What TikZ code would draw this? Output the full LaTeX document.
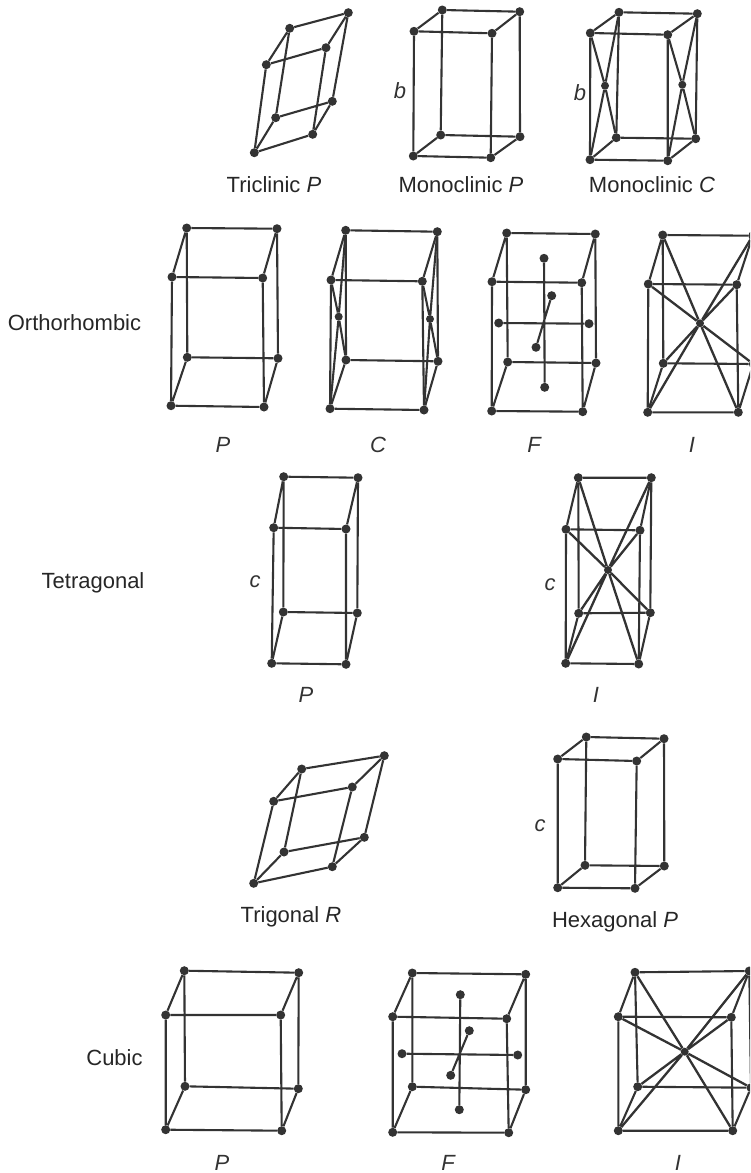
\documentclass[tikz,border=0pt]{standalone}
\usepackage{fontspec}
\setmainfont{Liberation Sans}
\newcommand{\cellbox}[9]{%
  \node[atom] (#1A) at (#2) {};
  \node[atom] (#1B) at (#3) {};
  \node[atom] (#1C) at (#4) {};
  \node[atom] (#1D) at (#5) {};
  \node[atom] (#1E) at (#6) {};
  \node[atom] (#1F) at (#7) {};
  \node[atom] (#1G) at (#8) {};
  \node[atom] (#1H) at (#9) {};
  \draw[edge] (#1A)--(#1B) (#1A)--(#1C) (#1C)--(#1D) (#1B)--(#1D)
    (#1A)--(#1E) (#1B)--(#1F) (#1C)--(#1G) (#1D)--(#1H)
    (#1E)--(#1F) (#1E)--(#1G) (#1F)--(#1H) (#1G)--(#1H);
}
\newcommand{\bodycentre}[2]{%
  \node[minor] (#1O) at (#2) {};
  \draw[edge,line width=2.3pt] (#1A)--(#1O) (#1O)--(#1H) (#1B)--(#1O) (#1O)--(#1G)
    (#1C)--(#1O) (#1O)--(#1F) (#1D)--(#1O) (#1O)--(#1E);
}
\newcommand{\facecentres}[7]{%
  \node[atom] (#1t) at (#2) {};
  \node[atom] (#1b) at (#3) {};
  \node[atom] (#1l) at (#4) {};
  \node[atom] (#1r) at (#5) {};
  \node[atom] (#1k) at (#6) {};
  \node[atom] (#1f) at (#7) {};
  \draw[edge] (#1t)--(#1b) (#1l)--(#1r) (#1k)--(#1f);
}
\newcommand{\sidecentres}[3]{%
  \node[minor] (#1p) at (#2) {};
  \node[minor] (#1q) at (#3) {};
  \draw[edge] (#1A)--(#1p) (#1p)--(#1G) (#1E)--(#1p) (#1p)--(#1C)
    (#1B)--(#1q) (#1q)--(#1H) (#1F)--(#1q) (#1q)--(#1D);
}
\tikzset{
  atom/.style={circle,fill=ink,draw=none,inner sep=0pt,minimum size=9pt},
  minor/.style={circle,fill=ink,draw=none,inner sep=0pt,minimum size=8pt},
  edge/.style={draw=ink,line width=2.1pt},
  lab/.style={text=black!85,font=\fontsize{22}{26}\selectfont,inner sep=0pt},
  sym/.style={text=ink,font=\fontsize{22}{26}\selectfont\itshape,inner sep=0pt}
}
\definecolor{ink}{gray}{0.2}
\begin{document}
\begin{tikzpicture}[x=1pt,y=-1pt]
\useasboundingbox (0,0) rectangle (750,1173);
\clip (0,0) rectangle (750,1173);
% Triclinic
\cellbox{a}{254.3,152.7}{312.7,134.3}{275.7,117.7}{332.3,101.3}{266.3,64.7}{326,47.7}{289.7,28.3}{348.3,12.7}
% Monoclinic P
\cellbox{b}{413.3,156}{490.7,157.7}{440.7,135}{520,136.7}{414,31.3}{492,33.3}{442.3,10}{519.7,11.7}
% Monoclinic C
\cellbox{c}{590,159.7}{667.7,160.7}{616.3,137.7}{695.7,138.7}{590.3,33}{667.7,34.7}{619,12.3}{697.3,13.7}
\sidecentres{c}{605,85.7}{682.3,84.7}
% Orthorhombic
\cellbox{d}{171,405.7}{264,407}{187.3,357.3}{278,358.3}{172,277}{262.7,278}{186.7,228}{277,228.7}
\cellbox{e}{330,408.7}{424,410}{346,360}{438,361.3}{331,280}{422.3,281.3}{345.7,230.3}{437.3,231.7}
\sidecentres{e}{338.7,316.7}{430,319}
\cellbox{f}{491.7,411}{582.7,411.7}{507.7,362}{596,363}{492,281.7}{581.7,282.7}{506.7,233}{595.3,234}
\facecentres{f}{544,258.3}{544.7,387.3}{498.7,323}{589,323.7}{551.7,295.7}{536,347.3}
\cellbox{g}{647.7,412.3}{738.3,412.3}{663.3,363.3}{753.3,364}{648.3,284}{736.7,284.7}{662.7,235}{752.7,235.7}
\bodycentre{g}{700,323.3}
% Tetragonal
\cellbox{h}{271.7,663.3}{346,664.3}{283.3,612}{357.3,613}{273.7,527.7}{346,529}{283.7,476.7}{358,477.7}
\cellbox{i}{565.7,663.3}{638.7,664}{578.7,613.3}{650.3,612.7}{566,529.3}{640,530.3}{578.3,477.7}{651.3,477.7}
\bodycentre{i}{608,570}
% Trigonal, hexagonal
\cellbox{j}{253.7,883.3}{332.3,866.7}{284,852}{364.3,837.3}{273.7,801.3}{352.3,787}{301.7,769}{384.3,755.7}
\cellbox{k}{557.7,887.7}{635,888.3}{585,865.3}{664.3,866}{557.7,759}{636.7,761}{586.3,737}{664,738.7}
% Cubic
\cellbox{m}{165.7,1129.7}{281.7,1130.7}{185,1086.3}{298.3,1088.7}{165.7,1015}{280.7,1015}{184.3,970.7}{298.7,972.7}
\cellbox{n}{392.7,1132.3}{508.7,1132.7}{412.3,1086.7}{525.7,1089.7}{392.7,1016.7}{506.7,1018.7}{412.3,973}{525.7,974.3}
\facecentres{n}{460.3,994.7}{459.3,1109.7}{402,1053.7}{517.7,1055}{469.3,1030.7}{450.7,1075.3}
\cellbox{o}{618.3,1130.7}{732.7,1130.7}{637.7,1086.7}{751,1087.7}{618.3,1016.7}{731.3,1017.3}{635,972.3}{749.3,971}
\bodycentre{o}{684.7,1051.7}
% Labels
\node[lab] (t1) at (274,184.5) {Triclinic \textit{P}};
\node[lab] (t2) at (461,185) {Monoclinic \textit{P}};
\node[lab] (t3) at (652,185) {Monoclinic \textit{C}};
\node[sym] (b1) at (400,91) {b};
\node[sym] (b2) at (580,93) {b};
\node[lab] (t4) at (74.5,322.5) {Orthorhombic};
\node[sym] (o1) at (223,445) {P};
\node[sym] (o2) at (378,445) {C};
\node[sym] (o3) at (534,445) {F};
\node[sym] (o4) at (692,445) {I};
\node[lab] (t5) at (93,583) {Tetragonal};
\node[sym] (c1) at (255,582) {c};
\node[sym] (c2) at (550,585) {c};
\node[sym] (q1) at (306,695) {P};
\node[sym] (q2) at (596,695) {I};
\node[lab] (t6) at (291,917) {Trigonal \textit{R}};
\node[lab] (t7) at (615,921.5) {Hexagonal \textit{P}};
\node[sym] (c3) at (540,826) {c};
\node[lab] (t8) at (114.5,1058) {Cubic};
\node[sym] (u1) at (222,1163) {P};
\node[sym] (u2) at (448,1163) {F};
\node[sym] (u3) at (678,1163) {I};
\end{tikzpicture}
\end{document}
